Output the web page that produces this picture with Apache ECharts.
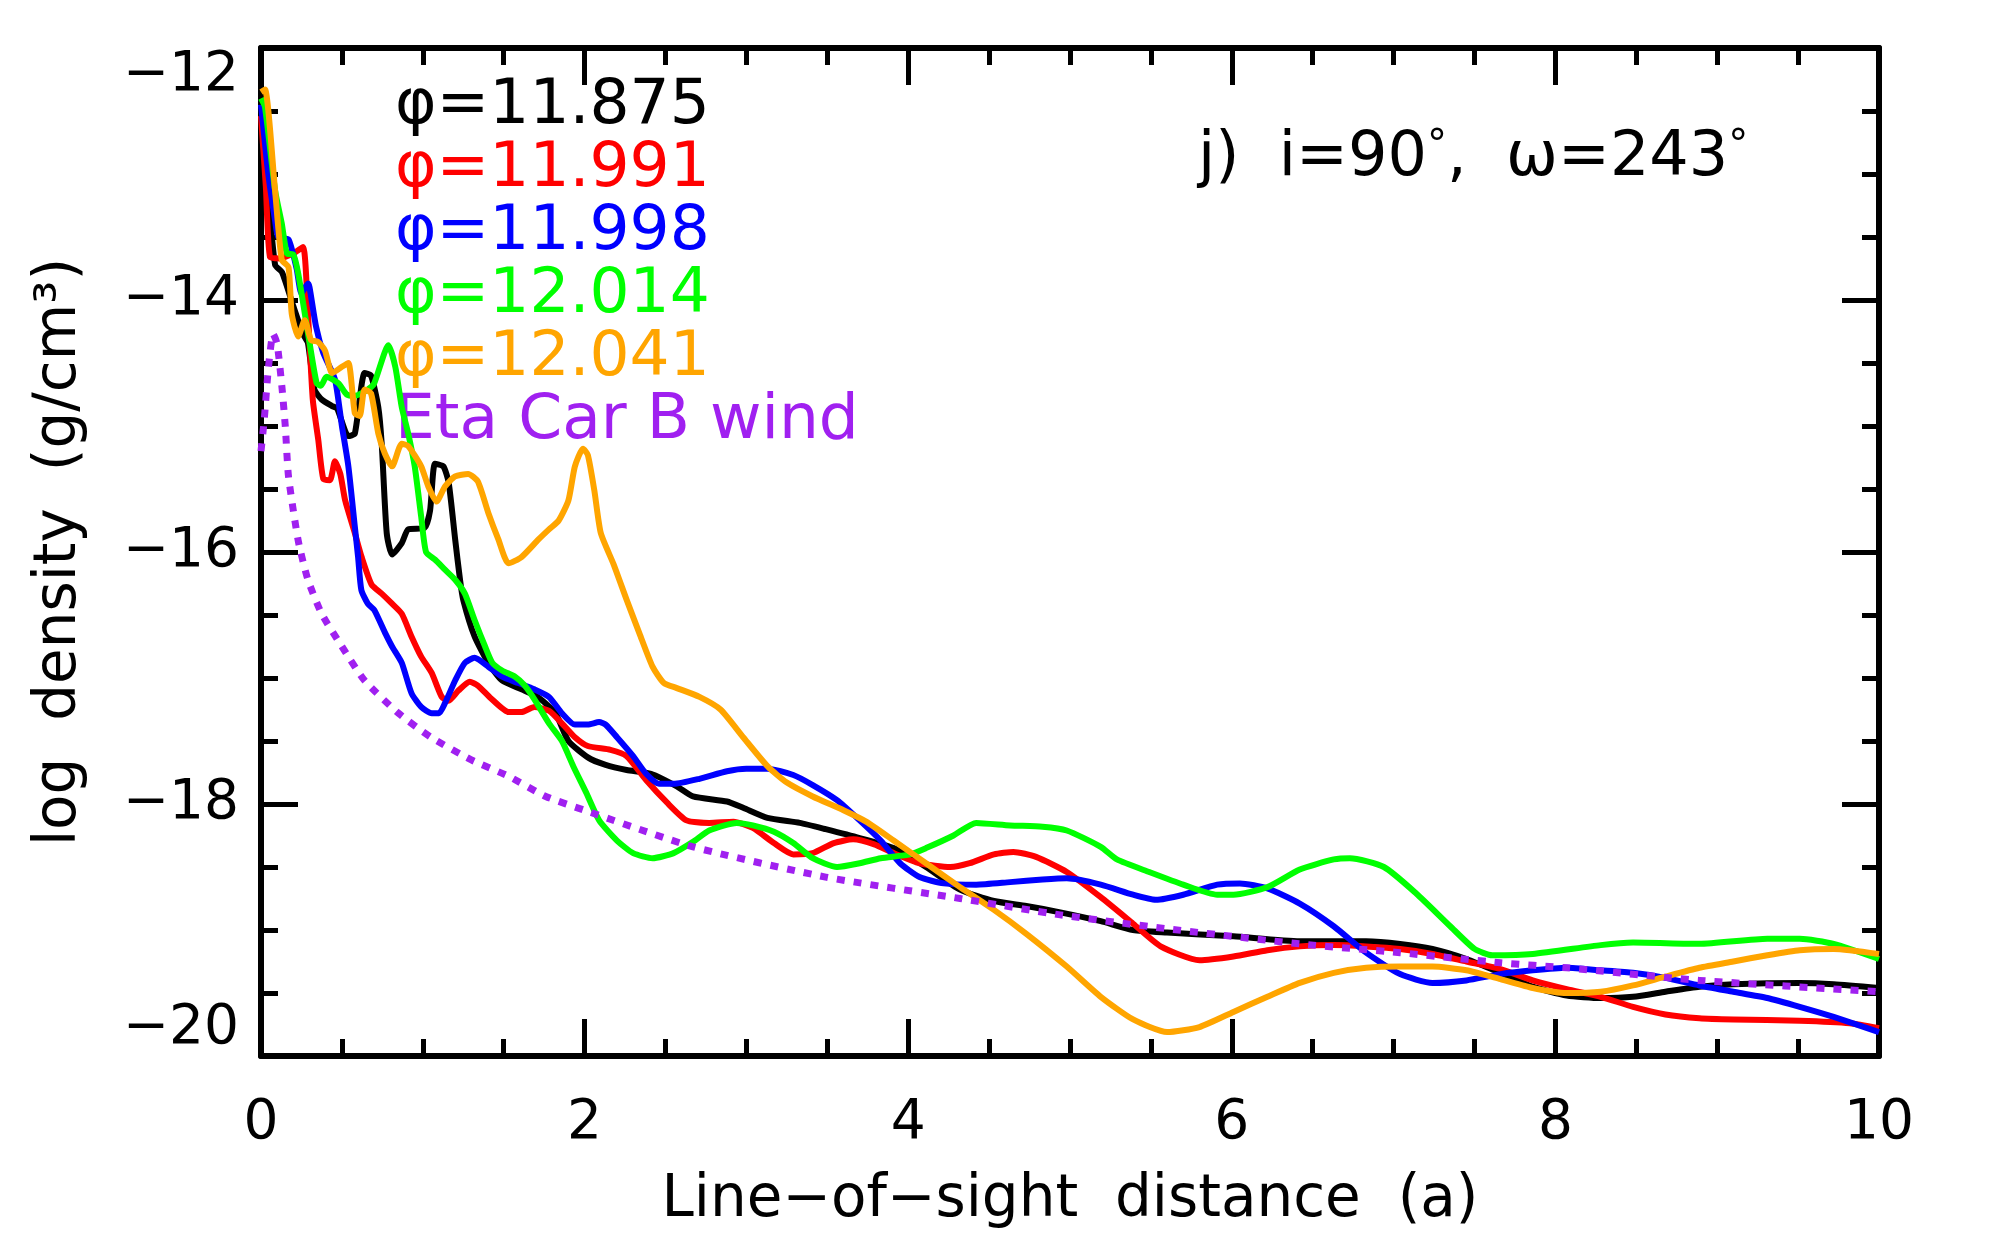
<!DOCTYPE html>
<html>
<head>
<meta charset="utf-8">
<script src="https://cdn.jsdelivr.net/npm/echarts@6/dist/echarts.min.js"></script>
<style>
	html, body { margin: 0; padding: 0; background: #fff; }
	#chart { width: 2000px; height: 1243px; }
</style>
</head>
<body>
<div id="chart"></div>
<script>
	// [distance (a), log density]
	var phi11875 = [[0,-12.45],[0.04,-13.1],[0.087,-13.72],[0.13,-13.78],[0.2,-14.05],[0.26,-14.27],[0.29,-14.34],[0.33,-14.71],[0.375,-14.79],[0.437,-14.84],[0.47,-14.86],[0.54,-15.08],[0.58,-15.06],[0.64,-14.58],[0.68,-14.6],[0.725,-14.85],[0.746,-15.14],[0.777,-15.85],[0.81,-16.02],[0.87,-15.93],[0.91,-15.82],[1.01,-15.81],[1.045,-15.67],[1.075,-15.3],[1.127,-15.32],[1.16,-15.45],[1.2,-15.9],[1.23,-16.22],[1.25,-16.38],[1.32,-16.67],[1.405,-16.88],[1.49,-17.02],[1.61,-17.09],[1.71,-17.15],[1.82,-17.28],[1.9,-17.5],[2.02,-17.63],[2.13,-17.69],[2.26,-17.73],[2.41,-17.76],[2.57,-17.86],[2.67,-17.94],[2.88,-17.98],[2.98,-18.03],[3.13,-18.11],[3.33,-18.15],[3.49,-18.2],[3.7,-18.27],[3.91,-18.35],[4.11,-18.5],[4.32,-18.68],[4.53,-18.77],[4.73,-18.81],[4.94,-18.86],[5.19,-18.93],[5.39,-19.0],[5.6,-19.02],[6.01,-19.05],[6.42,-19.09],[6.83,-19.09],[7.04,-19.11],[7.24,-19.15],[7.45,-19.23],[7.66,-19.34],[7.86,-19.45],[8.07,-19.52],[8.28,-19.54],[8.48,-19.53],[8.68,-19.49],[8.89,-19.45],[9.1,-19.43],[9.51,-19.42],[9.72,-19.43],[10,-19.46]];
	var phi11991 = [[0,-12.54],[0.03,-13.1],[0.056,-13.66],[0.117,-13.67],[0.2,-13.63],[0.26,-13.58],[0.29,-14.1],[0.32,-14.79],[0.354,-15.11],[0.385,-15.42],[0.426,-15.43],[0.457,-15.28],[0.49,-15.38],[0.52,-15.59],[0.58,-15.85],[0.622,-16.04],[0.684,-16.26],[0.746,-16.33],[0.81,-16.41],[0.87,-16.49],[0.93,-16.67],[0.99,-16.83],[1.055,-16.96],[1.117,-17.15],[1.16,-17.18],[1.22,-17.1],[1.29,-17.03],[1.34,-17.06],[1.42,-17.16],[1.53,-17.27],[1.61,-17.27],[1.69,-17.23],[1.78,-17.26],[1.86,-17.36],[1.94,-17.47],[2.02,-17.54],[2.16,-17.57],[2.26,-17.62],[2.38,-17.81],[2.51,-17.99],[2.63,-18.13],[2.77,-18.15],[2.92,-18.14],[3.04,-18.19],[3.17,-18.31],[3.29,-18.4],[3.41,-18.39],[3.54,-18.31],[3.66,-18.28],[3.79,-18.32],[3.91,-18.39],[4.07,-18.47],[4.26,-18.5],[4.38,-18.47],[4.53,-18.4],[4.65,-18.38],[4.79,-18.42],[4.98,-18.54],[5.19,-18.74],[5.39,-18.95],[5.56,-19.13],[5.8,-19.24],[6.01,-19.21],[6.22,-19.16],[6.42,-19.13],[6.63,-19.12],[6.83,-19.13],[7.04,-19.15],[7.24,-19.19],[7.45,-19.25],[7.66,-19.31],[7.86,-19.4],[8.07,-19.47],[8.28,-19.53],[8.48,-19.61],[8.68,-19.67],[8.89,-19.7],[9.1,-19.71],[9.51,-19.72],[9.82,-19.74],[10,-19.78]];
	var phi11998 = [[0,-12.45],[0.045,-13.0],[0.087,-13.37],[0.107,-13.5],[0.17,-13.52],[0.22,-13.75],[0.25,-13.95],[0.29,-13.87],[0.3,-13.9],[0.34,-14.21],[0.385,-14.42],[0.457,-14.63],[0.5,-15.0],[0.54,-15.32],[0.58,-15.8],[0.6,-16.04],[0.62,-16.3],[0.66,-16.41],[0.7,-16.46],[0.77,-16.65],[0.81,-16.75],[0.87,-16.88],[0.93,-17.12],[0.99,-17.23],[1.055,-17.28],[1.1,-17.28],[1.137,-17.2],[1.2,-17.02],[1.26,-16.88],[1.32,-16.84],[1.405,-16.91],[1.49,-16.99],[1.59,-17.04],[1.69,-17.09],[1.78,-17.15],[1.86,-17.28],[1.94,-17.37],[2.02,-17.37],[2.09,-17.35],[2.13,-17.37],[2.2,-17.47],[2.3,-17.62],[2.38,-17.76],[2.46,-17.84],[2.55,-17.84],[2.71,-17.8],[2.88,-17.74],[3.0,-17.72],[3.13,-17.72],[3.29,-17.77],[3.41,-17.85],[3.56,-17.97],[3.7,-18.13],[3.83,-18.29],[3.95,-18.47],[4.07,-18.58],[4.22,-18.63],[4.42,-18.64],[4.63,-18.62],[4.83,-18.6],[4.98,-18.59],[5.19,-18.64],[5.39,-18.72],[5.53,-18.76],[5.7,-18.72],[5.91,-18.64],[6.05,-18.63],[6.22,-18.67],[6.42,-18.79],[6.63,-18.97],[6.83,-19.18],[7.04,-19.35],[7.24,-19.42],[7.45,-19.4],[7.66,-19.35],[7.86,-19.32],[8.07,-19.3],[8.28,-19.32],[8.48,-19.34],[8.68,-19.38],[8.89,-19.44],[9.1,-19.49],[9.31,-19.54],[9.51,-19.61],[9.72,-19.69],[10,-19.81]];
	var phi12014 = [[0,-12.4],[0.025,-12.47],[0.087,-13.13],[0.128,-13.39],[0.16,-13.63],[0.2,-13.64],[0.23,-13.79],[0.3,-14.34],[0.344,-14.66],[0.37,-14.68],[0.405,-14.61],[0.478,-14.66],[0.53,-14.75],[0.58,-14.76],[0.66,-14.71],[0.7,-14.66],[0.787,-14.36],[0.83,-14.53],[0.87,-14.85],[0.91,-15.06],[0.95,-15.32],[0.99,-15.72],[1.02,-16.0],[1.075,-16.06],[1.137,-16.14],[1.2,-16.22],[1.26,-16.33],[1.32,-16.54],[1.385,-16.75],[1.43,-16.88],[1.49,-16.94],[1.57,-16.99],[1.63,-17.06],[1.69,-17.17],[1.78,-17.36],[1.86,-17.5],[1.93,-17.7],[2.01,-17.91],[2.09,-18.13],[2.2,-18.29],[2.3,-18.39],[2.42,-18.43],[2.55,-18.39],[2.67,-18.3],[2.77,-18.21],[2.94,-18.15],[3.04,-18.17],[3.17,-18.22],[3.29,-18.31],[3.41,-18.43],[3.56,-18.5],[3.7,-18.47],[3.83,-18.43],[4.01,-18.4],[4.11,-18.35],[4.28,-18.25],[4.42,-18.15],[4.63,-18.17],[4.83,-18.18],[4.98,-18.21],[5.19,-18.34],[5.29,-18.44],[5.49,-18.54],[5.7,-18.64],[5.91,-18.72],[6.01,-18.72],[6.22,-18.66],[6.42,-18.52],[6.63,-18.44],[6.73,-18.43],[6.94,-18.5],[7.14,-18.71],[7.35,-18.97],[7.5,-19.15],[7.61,-19.2],[7.86,-19.19],[8.28,-19.12],[8.48,-19.1],[8.89,-19.11],[9.31,-19.07],[9.51,-19.07],[9.72,-19.11],[10,-19.23]];
	var phi12041 = [[0,-12.35],[0.025,-12.33],[0.087,-13.13],[0.128,-13.68],[0.17,-13.74],[0.19,-14.11],[0.23,-14.29],[0.27,-14.16],[0.31,-14.32],[0.35,-14.33],[0.395,-14.4],[0.44,-14.58],[0.5,-14.53],[0.54,-14.5],[0.58,-14.9],[0.61,-14.92],[0.64,-14.71],[0.68,-14.74],[0.725,-15.06],[0.766,-15.22],[0.81,-15.32],[0.87,-15.14],[0.91,-15.16],[0.99,-15.32],[1.034,-15.48],[1.085,-15.6],[1.137,-15.48],[1.2,-15.4],[1.28,-15.38],[1.34,-15.44],[1.405,-15.69],[1.467,-15.9],[1.53,-16.09],[1.61,-16.04],[1.715,-15.9],[1.78,-15.82],[1.84,-15.75],[1.9,-15.59],[1.94,-15.32],[1.99,-15.18],[2.02,-15.23],[2.06,-15.51],[2.1,-15.85],[2.18,-16.1],[2.26,-16.38],[2.34,-16.65],[2.42,-16.91],[2.49,-17.04],[2.57,-17.08],[2.71,-17.15],[2.84,-17.25],[2.98,-17.47],[3.13,-17.7],[3.25,-17.83],[3.41,-17.94],[3.6,-18.05],[3.74,-18.14],[3.91,-18.29],[4.11,-18.47],[4.32,-18.66],[4.53,-18.84],[4.73,-19.03],[4.98,-19.29],[5.19,-19.53],[5.39,-19.71],[5.6,-19.81],[5.8,-19.77],[6.01,-19.65],[6.22,-19.53],[6.42,-19.42],[6.63,-19.34],[6.83,-19.3],[7.04,-19.29],[7.24,-19.29],[7.45,-19.32],[7.66,-19.39],[7.86,-19.46],[8.07,-19.5],[8.28,-19.49],[8.48,-19.44],[8.68,-19.37],[8.89,-19.3],[9.1,-19.25],[9.31,-19.2],[9.51,-19.16],[9.72,-19.15],[10,-19.19]];
	var etaCarBWind = [[0,-15.2],[0.02,-14.95],[0.045,-14.55],[0.075,-14.27],[0.1,-14.35],[0.13,-14.7],[0.15,-15.0],[0.17,-15.4],[0.23,-15.91],[0.29,-16.22],[0.375,-16.49],[0.5,-16.75],[0.64,-17.02],[0.85,-17.28],[1.05,-17.47],[1.3,-17.65],[1.53,-17.78],[1.76,-17.94],[2.0,-18.05],[2.67,-18.34],[3.49,-18.58],[4.32,-18.75],[4.94,-18.88],[5.6,-18.99],[6.42,-19.11],[7.04,-19.18],[7.66,-19.26],[8.07,-19.3],[8.89,-19.4],[10,-19.49]];

	var seriesNames = ['\u03c6=11.875', '\u03c6=11.991', '\u03c6=11.998', '\u03c6=12.014', '\u03c6=12.041', 'Eta Car B wind'];
	var seriesColors = ['#000000', '#ff0000', '#0000ff', '#00ff00', '#ffa500', '#a020f0'];
	var xTicks = [0, 10, 2];      // min, max, interval
	var yTicks = [-20, -12, 2];

	var font = 'DejaVu Sans';
	var myChart = echarts.init(document.getElementById('chart'));

	function axisBase(extra) {
		var base = {
			type: 'value',
			axisLine: {onZero: false, lineStyle: {color: '#000', width: 6}},
			axisTick: {inside: true, length: 37, lineStyle: {color: '#000', width: 5}},
			minorTick: {show: true, splitNumber: 4, length: 17, lineStyle: {color: '#000', width: 5}},
			splitLine: {show: false},
			axisLabel: {show: false}
		};
		return Object.assign(base, extra);
	}
	var minus = function (v) { return String(v).replace('-', '\u2212'); };

	var datas = [phi11875, phi11991, phi11998, phi12014, phi12041, etaCarBWind];
	var series = [];
	datas.forEach(function (d, i) {
		series.push({
			name: seriesNames[i],
			type: 'line',
			data: d,
			showSymbol: false,
			symbol: 'none',
			smooth: 0.2,
			clip: true,
			lineStyle: {
				color: seriesColors[i],
				width: i == 5 ? 7 : 6,
				type: i == 5 ? [8, 9] : 'solid',
				cap: 'butt',
				join: 'round'
			},
			itemStyle: {color: seriesColors[i]},
			z: 2 + i
		});
	});

	var option = {
		animation: false,
		backgroundColor: '#fff',
		textStyle: {fontFamily: font},
		grid: {left: 261, right: 121, top: 48, bottom: 187, containLabel: false},
		legend: {
			orient: 'vertical',
			left: 385,
			top: 70,
			icon: 'none',
			itemWidth: 0,
			itemHeight: 10,
			itemGap: 0,
			selectedMode: false,
			textStyle: {fontSize: 63, lineHeight: 62.4, fontFamily: font},
			data: seriesNames.map(function (n, i) {
				return {name: n, textStyle: {color: seriesColors[i]}};
			})
		},
		xAxis: [
			axisBase({
				position: 'bottom', min: xTicks[0], max: xTicks[1], interval: xTicks[2],
				axisLabel: {show: true, color: '#000', fontSize: 55, fontFamily: font, margin: 40},
				name: 'Line\u2212of\u2212sight  distance  (a)',
				nameLocation: 'middle',
				nameGap: 116,
				nameTextStyle: {color: '#000', fontSize: 58, fontFamily: font}
			}),
			axisBase({position: 'top', min: xTicks[0], max: xTicks[1], interval: xTicks[2]})
		],
		yAxis: [
			axisBase({
				position: 'left', min: yTicks[0], max: yTicks[1], interval: yTicks[2],
				axisLabel: {
					show: true, color: '#000', fontSize: 55, fontFamily: font, margin: 22,
					formatter: minus,
					verticalAlignMinLabel: 'bottom',
					verticalAlignMaxLabel: 'top'
				},
				name: 'log  density  (g/cm\u00b3)',
				nameLocation: 'middle',
				nameGap: 172,
				nameRotate: 90,
				nameTextStyle: {color: '#000', fontSize: 58, fontFamily: font}
			}),
			axisBase({position: 'right', min: yTicks[0], max: yTicks[1], interval: yTicks[2]})
		],
		graphic: [{
			type: 'text',
			left: 1198,
			top: 128,
			style: {
				text: 'j)  i=90{d|\u00b0},  \u03c9=243{d|\u00b0}',
				fontSize: 62, fontFamily: font, fill: '#000',
				rich: {d: {fontSize: 40, fontFamily: font, fill: '#000', verticalAlign: 'top', lineHeight: 62}}
			}
		}],
		series: series
	};
	myChart.setOption(option);
</script>
</body>
</html>
